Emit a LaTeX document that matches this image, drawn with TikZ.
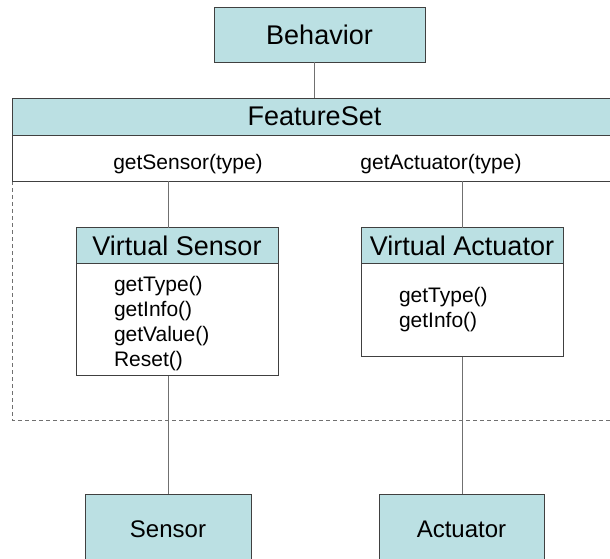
\documentclass[tikz,border=0pt]{standalone}
\usepackage{fontspec}
\setmainfont{Liberation Sans}
\usetikzlibrary{positioning}
\definecolor{boxcyan}{RGB}{187,224,227}
\definecolor{edgegray}{RGB}{64,64,64}
\definecolor{linegray}{RGB}{112,112,112}

\begin{document}
\begin{tikzpicture}[
  x=1pt, y=-1pt,
  every node/.style={rectangle, draw=edgegray, line width=0.8pt, inner sep=0pt, outer sep=0pt},
  head/.style={fill=boxcyan, font=\fontsize{27}{32}\selectfont},
  leaf/.style={fill=boxcyan, font=\fontsize{24}{29}\selectfont},
  ops/.style={fill=white, font=\fontsize{21}{25}\selectfont, align=left, text width=126pt},
  call/.style={draw=none, font=\fontsize{21}{25}\selectfont},
  link/.style={draw=linegray, line width=0.8pt}
]
\clip (0,0) rectangle (610,558);
\fill[white] (0,0) rectangle (610,558);

% Group frame
\draw[linegray, line width=0.8pt, dash pattern=on 4pt off 3pt] (12,181) rectangle (617,420);

% Nodes
\node[head, minimum width=211pt, minimum height=55pt] (Behavior) at (319.5,34.5) {Behavior};
\node[head, minimum width=605pt, minimum height=37pt] (FeatureSet) at (314.5,116.5) {FeatureSet};
\node[fill=white, minimum width=605pt, minimum height=46pt, below=0pt of FeatureSet] (FSops) {};
\node[call] (getSensor) at (188,164) {getSensor(type)};
\node[call] (getActuator) at (441,164) {getActuator(type)};

\node[head, minimum width=202pt, minimum height=36pt] (VShead) at (177,245.5) {Virtual Sensor};
\node[ops, minimum width=202pt, minimum height=112pt, below=0pt of VShead] (VSops)
  {\rule{0pt}{24pt}getType()\\getInfo()\\getValue()\\Reset()};
\node[head, minimum width=202pt, minimum height=36pt] (VAhead) at (462,245.5) {Virtual Actuator};
\node[ops, minimum width=202pt, minimum height=93pt, below=0pt of VAhead] (VAops)
  {getType()\\getInfo()\\[2pt]};

\node[leaf, minimum width=166pt, minimum height=70pt] (Sensor) at (168,529) {Sensor};
\node[leaf, minimum width=165pt, minimum height=70pt] (Actuator) at (461.5,529) {Actuator};

% Edges
\draw[link] (Behavior.south -| FeatureSet.north) -- (FeatureSet.north);
\draw[link] (FSops.south -| Sensor.north) -- (VShead.north -| Sensor.north);
\draw[link] (VSops.south -| Sensor.north) -- (Sensor.north);
\draw[link] (FSops.south -| VAhead.north) -- (VAhead.north);
\draw[link] (VAops.south) -- (VAops.south |- Actuator.north);
\end{tikzpicture}
\end{document}
